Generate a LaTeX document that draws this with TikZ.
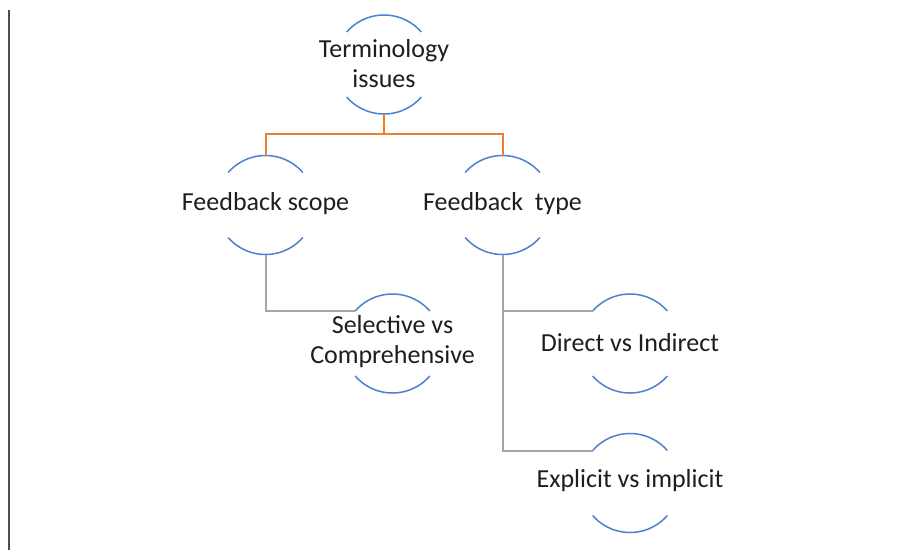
\documentclass[tikz,border=0pt]{standalone}
\usepackage{fontspec}
\setmainfont{Carlito}
\definecolor{arcblue}{HTML}{4F7FCF}
\definecolor{conorange}{HTML}{ED7D31}
\definecolor{congray}{HTML}{A5A5A5}
\definecolor{txt}{HTML}{1E1E1E}
\definecolor{edge}{HTML}{4D4D4D}
\tikzset{
  ring/.style={circle, minimum size=99pt, inner sep=0pt, outer sep=0pt, draw=none},
  label/.style={align=center, text=txt, font=\fontsize{26}{30}\selectfont, inner sep=0pt},
  arcline/.style={draw=arcblue, line width=1.5pt},
  orangecon/.style={draw=conorange, line width=2pt},
  graycon/.style={draw=congray, line width=2pt},
}
\newcommand{\halfarcs}[1]{%
  \draw[arcline] (#1.41) arc[start angle=41, end angle=139, radius=49.5pt];
  \draw[arcline] (#1.221) arc[start angle=221, end angle=319, radius=49.5pt];
}
\begin{document}
\begin{tikzpicture}[x=1pt,y=1pt]
\useasboundingbox (0,0) rectangle (899,-550);
\fill[white] (0,0) rectangle (899,-550);
\draw[edge, line width=2pt] (9,-10) coordinate (e1) -- (9,-550) coordinate (e2);

\node[ring] (t) at (384,-64.5) {};
\node[ring] (s) at (265.5,-205) {};
\node[ring] (ty) at (502.5,-205) {};
\node[ring] (sel) at (392.5,-343.5) {};
\node[ring] (dir) at (630,-343.5) {};
\node[ring] (exp) at (630,-483) {};

\halfarcs{t}
\halfarcs{s}
\halfarcs{ty}
\halfarcs{sel}
\halfarcs{dir}
\halfarcs{exp}

\node[label] (tl) at ([yshift=1pt]t.center) {Terminology\\issues};
\node[label] (sl) at ([yshift=1pt]s.center) {Feedback scope};
\node[label] (tyl) at ([yshift=1pt]ty.center) {Feedback\ \ type};
\node[label] (sell) at ([yshift=2pt]sel.center) {Selective vs\\Comprehensive};
\node[label] (dirl) at ([yshift=1pt]dir.center) {Direct vs Indirect};
\node[label] (expl) at ([yshift=2pt]exp.center) {Explicit vs implicit};

\draw[orangecon] (t.south) -- ++(0,-20) -| (s.north);
\draw[orangecon] (t.south) -- ++(0,-20) -| (ty.north);
\draw[graycon] (s.south) |- (sel.139);
\draw[graycon] (ty.south) |- (dir.139);
\draw[graycon] (ty.south) |- (exp.139);
\end{tikzpicture}
\end{document}
